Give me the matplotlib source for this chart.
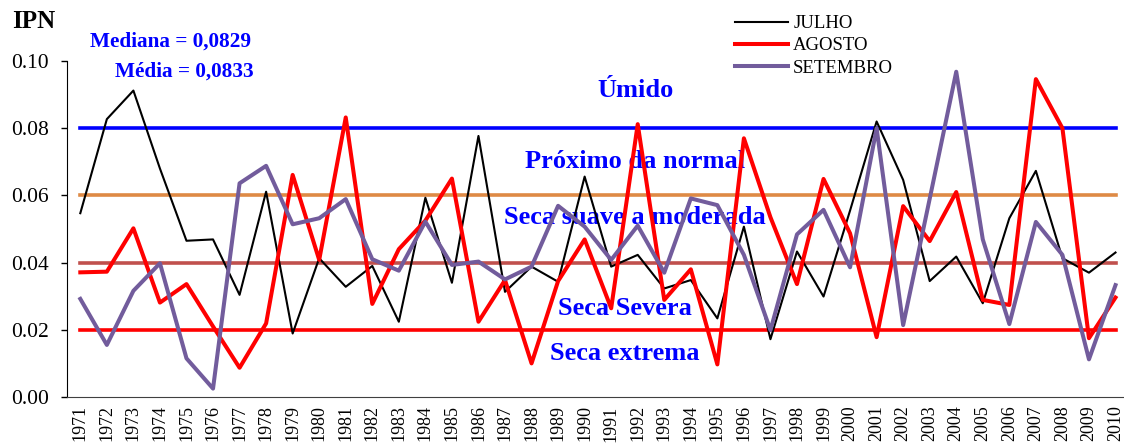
import matplotlib
matplotlib.use('Agg')
import matplotlib.pyplot as plt

plt.rcParams['font.family'] = ['Liberation Serif', 'DejaVu Serif']

# Data
years = list(range(1971, 2011))
julho = [0.0547, 0.0827, 0.0912, 0.0680, 0.0465, 0.0469, 0.0304, 0.0611, 0.0189, 0.0413,
         0.0328, 0.0390, 0.0224, 0.0593, 0.0340, 0.0777, 0.0313, 0.0388, 0.0343, 0.0656,
         0.0388, 0.0423, 0.0323, 0.0348, 0.0234, 0.0507, 0.0172, 0.0433, 0.0299, 0.0555,
         0.0820, 0.0646, 0.0345, 0.0418, 0.0279, 0.0532, 0.0673, 0.0413, 0.0370, 0.0430]
agosto = [0.0371, 0.0373, 0.0502, 0.0281, 0.0336, 0.0210, 0.0087, 0.0219, 0.0661, 0.0408,
          0.0832, 0.0277, 0.0440, 0.0525, 0.0650, 0.0224, 0.0348, 0.0100, 0.0345, 0.0469,
          0.0264, 0.0812, 0.0289, 0.0380, 0.0097, 0.0770, 0.0535, 0.0336, 0.0649, 0.0487,
          0.0178, 0.0568, 0.0464, 0.0610, 0.0289, 0.0274, 0.0946, 0.0800, 0.0175, 0.0296]
setembro = [0.0292, 0.0155, 0.0316, 0.0398, 0.0115, 0.0025, 0.0636, 0.0688, 0.0514, 0.0532,
            0.0589, 0.0410, 0.0376, 0.0522, 0.0393, 0.0403, 0.0350, 0.0388, 0.0569, 0.0507,
            0.0408, 0.0510, 0.0370, 0.0591, 0.0571, 0.0423, 0.0199, 0.0484, 0.0557, 0.0386,
            0.0800, 0.0214, 0.0590, 0.0968, 0.0469, 0.0217, 0.0521, 0.0423, 0.0112, 0.0333]

limites = [0.08, 0.06, 0.04, 0.02]
cores_limites = ['#0000FF', '#DE8A45', '#C0504D', '#FF0000']

classes = ['Úmido', 'Próximo da normal', 'Seca suave a moderada', 'Seca Severa', 'Seca extrema']
classes_y = [0.0911, 0.0700, 0.0533, 0.0262, 0.0128]
classes_x = [1991.9, 1991.9, 1991.9, 1991.5, 1991.5]

W, H = 1124, 443
fig = plt.figure(figsize=(W / 100, H / 100), dpi=100)
ax = fig.add_axes([67.3 / W, 1 - 397 / H, (W - 67.3) / W, (397 - 61) / H])

# threshold lines
for v, c in zip(limites, cores_limites):
    ax.plot([years[0], years[-1]], [v, v], color=c, lw=2.6, zorder=2)

# series
ax.plot(years, julho, color='black', lw=1.5, label='JULHO', zorder=3)
ax.plot(years, agosto, color='#FF0000', lw=2.9, label='AGOSTO', zorder=3)
ax.plot(years, setembro, color='#725C9C', lw=2.9, label='SETEMBRO', zorder=3)

# class labels
for txt, x, y in zip(classes, classes_x, classes_y):
    ax.text(x, y, txt, color='#0000FF', fontsize=19, fontweight='bold',
            ha='center', va='center', zorder=1)

ax.set_xlim(1970.51, 2010.32)
ax.set_ylim(0, 0.10)
ax.set_xticks(years)
ax.set_xticklabels([str(y) for y in years], rotation=90, fontsize=13)
ax.set_yticks([0, 0.02, 0.04, 0.06, 0.08, 0.10])
ax.set_yticklabels(['0.00', '0.02', '0.04', '0.06', '0.08', '0.10'], fontsize=15.5)
ax.tick_params(axis='x', length=0, pad=6)
ax.tick_params(axis='y', length=4, width=1, pad=9)
ax.spines['top'].set_visible(False)
ax.spines['right'].set_visible(False)
ax.spines['bottom'].set_color('#404040')

ax.legend(loc='upper left', bbox_to_anchor=(735 / W, 1 - 15 / H), bbox_transform=fig.transFigure,
          frameon=False, fontsize=13.5, handlelength=2.8, handletextpad=0.3,
          labelspacing=0.28, borderpad=0, borderaxespad=0)

fig.text(12 / W, 1 - 22 / H, 'IPN', fontsize=18, fontweight='bold', va='center', ha='left')
fig.text(90 / W, 1 - 42 / H, 'Mediana = 0,0829', fontsize=15.3, fontweight='bold',
         color='#0000FF', va='center', ha='left')
fig.text(115 / W, 1 - 72 / H, 'Média = 0,0833', fontsize=15.3, fontweight='bold',
         color='#0000FF', va='center', ha='left')

fig.savefig('out.png', dpi=100)
